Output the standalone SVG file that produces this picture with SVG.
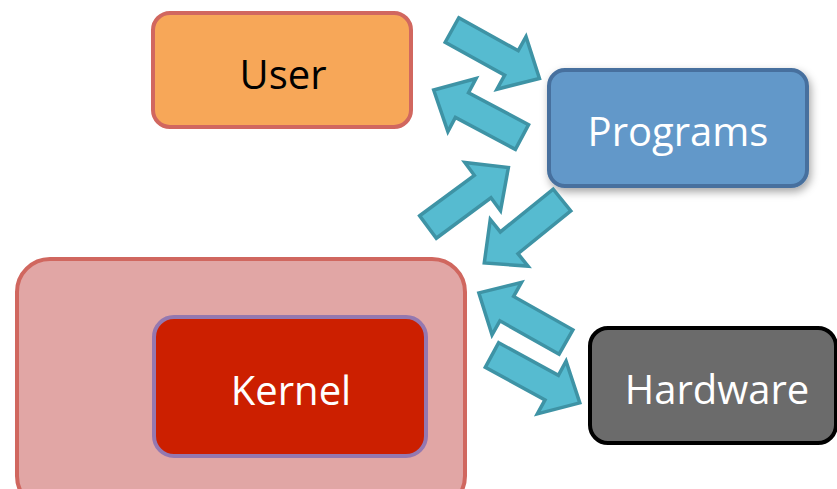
<svg xmlns="http://www.w3.org/2000/svg" width="837" height="489" viewBox="0 0 837 489">
  <style>
    .label { font-family: "Open Sans", "Liberation Sans", sans-serif; font-size: 40px; text-anchor: middle; }
    .dark { fill: #000000; }
    .light { fill: #ffffff; }
    .flow { fill: #56bbd0; stroke: #3e93a5; stroke-width: 3.5; stroke-linejoin: miter; }
  </style>
  <defs>
    <!-- block arrow pointing along +x, tail centred on the origin -->
    <path id="blockArrow" d="M0,-14 L68,-14 L68,-30 L100,0 L68,30 L68,14 L0,14 Z"/>
    <filter id="softShadow" x="-10%" y="-10%" width="125%" height="135%">
      <feDropShadow dx="2" dy="4" stdDeviation="4" flood-color="#000000" flood-opacity="0.35"/>
    </filter>
  </defs>

  <rect width="837" height="489" fill="#ffffff"/>

  <g id="kernel-space">
    <rect x="17" y="259" width="448" height="250" rx="33" fill="#e1a6a5" stroke="#d0675f" stroke-width="4"/>
  </g>

  <g id="kernel">
    <rect x="154" y="317" width="272" height="139" rx="20" fill="#cc1f00" stroke="#9478b0" stroke-width="4"/>
    <text class="label light" x="291" y="405">Kernel</text>
  </g>

  <g id="user">
    <rect x="153" y="13" width="258" height="114" rx="17" fill="#f7a758" stroke="#d1675f" stroke-width="4"/>
    <text class="label dark" x="283" y="89">User</text>
  </g>

  <g id="programs">
    <rect x="549" y="70" width="258" height="116" rx="16" fill="#6298c9" stroke="#46709e" stroke-width="4" filter="url(#softShadow)"/>
    <text class="label light" x="678" y="146">Programs</text>
  </g>

  <g id="hardware">
    <rect x="590" y="328" width="246" height="115" rx="18" fill="#6b6b6b" stroke="#000000" stroke-width="4"/>
    <text class="label light" x="717" y="404">Hardware</text>
  </g>

  <g id="connectors">
    <use href="#blockArrow" class="flow" transform="translate(452,30) rotate(29)"/>
    <use href="#blockArrow" class="flow" transform="translate(522,137) rotate(208)"/>
    <use href="#blockArrow" class="flow" transform="translate(428,227) rotate(-36.5)"/>
    <use href="#blockArrow" class="flow" transform="translate(562,200) rotate(141)"/>
    <use href="#blockArrow" class="flow" transform="translate(566,342) rotate(209.4)"/>
    <use href="#blockArrow" class="flow" transform="translate(492,355) rotate(28.6)"/>
  </g>
</svg>
